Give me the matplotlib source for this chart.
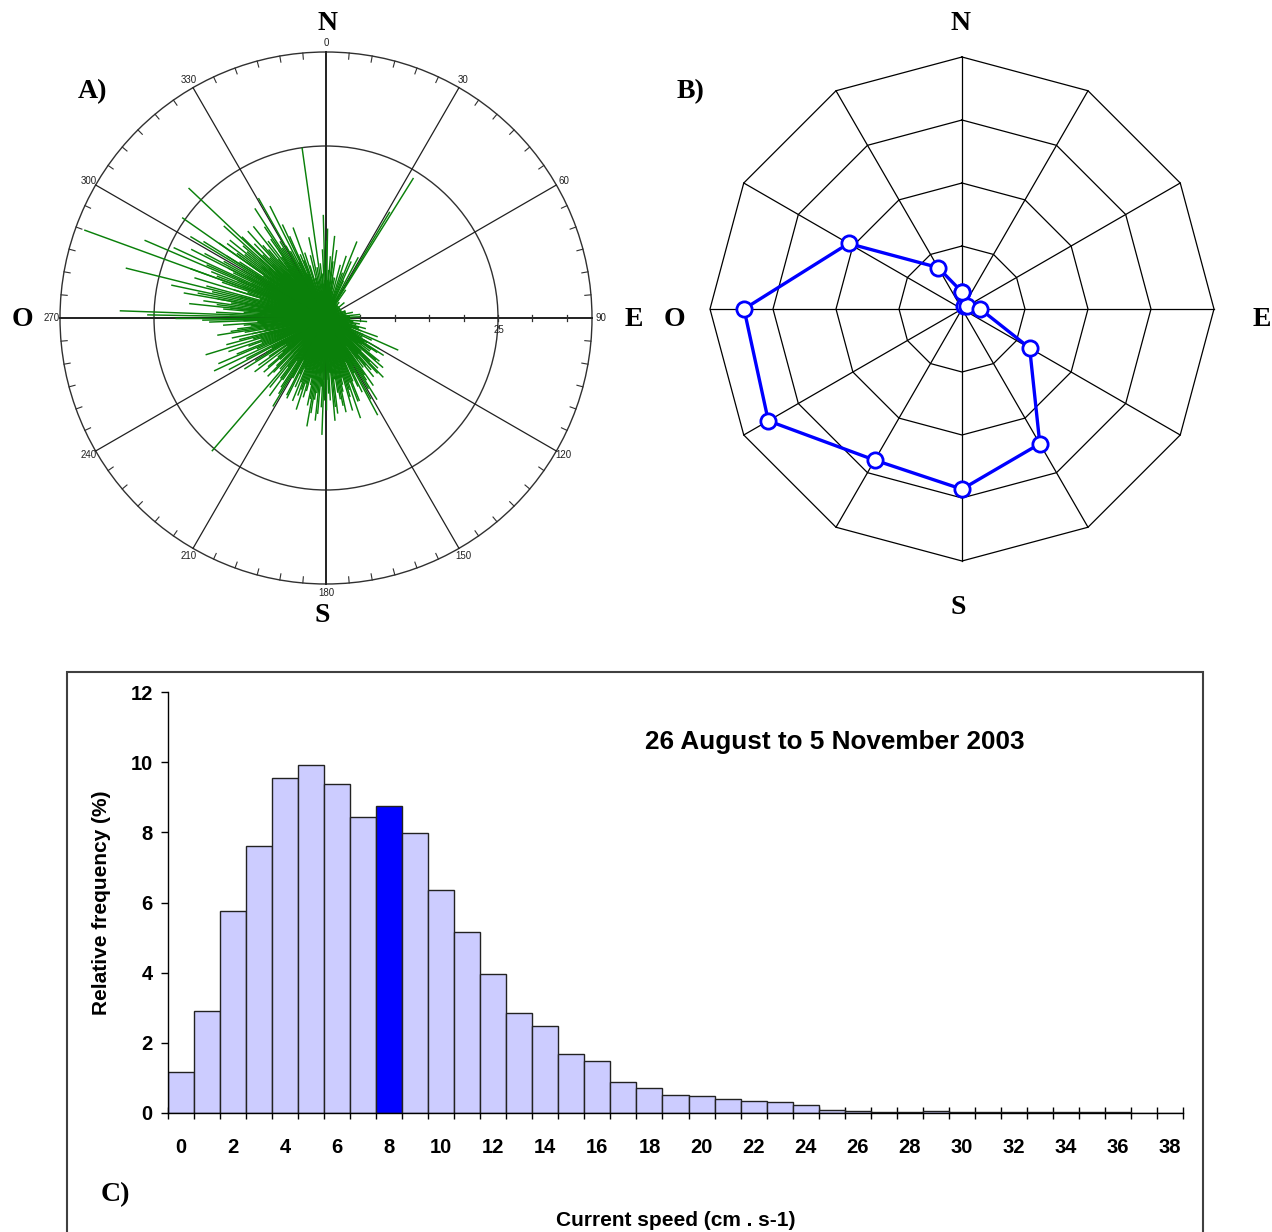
import numpy as np
import matplotlib
matplotlib.use("Agg")
import matplotlib.pyplot as plt
from matplotlib.patches import Circle, Rectangle

# ---------------------------------------------------------------- data
# A) current vectors: (direction in degrees clockwise from north, speed cm/s)
sticks_n = [(352, 25), (358.5, 15), (0, 11.4), (9, 10), (7, 8.3), (346, 9.4), (3, 7),
            (355, 6.5), (350, 7.5), (15, 8), (12, 6), (18, 9.5), (5, 5), (357, 10),
            (2, 4), (345, 6), (348, 12), (354, 8), (20, 7), (342, 10), (1, 13),
            (356, 5), (6, 12), (10, 6), (4, 9), (340, 14), (343, 8)]
sticks_ne = [(32, 24), (31, 18), (25, 6), (28, 10), (22, 12), (35, 5), (40, 3),
             (50, 3.5), (60, 2.5), (70, 3), (78, 4), (45, 2), (24, 9), (30, 4)]
sticks_e = [(84, 5), (88, 5), (92, 3), (96, 4), (100, 5), (86, 3), (95, 6)]
sticks_ese = [(114, 11.5), (116, 7.4), (105, 6), (110, 8), (120, 9), (125, 8), (130, 9.5),
              (108, 5), (118, 5), (123, 10), (128, 6), (112, 4), (103, 3.5), (133, 7)]
sticks_se = [(134, 10.5), (147, 10.8), (161, 15.4), (151, 13.5), (140, 9), (145, 12),
             (155, 11), (158, 13), (150, 8), (138, 7), (142, 6), (153, 9), (163, 12),
             (137, 11), (148, 14), (156, 7), (160, 10), (144, 5), (165, 9), (152, 16),
             (121, 7), (124, 9), (127, 8), (129, 10), (131, 11), (135, 9), (136, 12),
             (139, 10), (141, 11), (143, 9), (146, 10), (149, 12), (154, 12), (157, 10),
             (159, 13), (162, 11), (164, 14)]
sticks_s = [(180, 13.3), (190, 16), (175, 15), (170, 12), (185, 14), (178, 11), (182, 17),
            (172, 9), (188, 12), (193, 10), (168, 14), (176, 8), (184, 10), (179, 6),
            (186, 15), (174, 13), (192, 13), (167, 11), (181, 12), (195, 11), (166, 10),
            (169, 13), (171, 11), (173, 14), (177, 12), (183, 13), (187, 11), (189, 14),
            (191, 12), (194, 9), (196, 12), (197, 10), (199, 11), (202, 13)]
sticks_ssw = [(207, 12.6), (220.6, 25.5), (200, 12), (210, 10), (215, 11), (205, 9),
              (198, 14), (212, 13), (218, 9), (203, 8), (222, 10), (208, 7), (225, 12),
              (214, 6), (201, 10), (216, 14), (211, 15), (204, 11), (206, 13), (209, 10),
              (213, 12), (217, 11), (219, 13), (221, 8), (224, 11)]
sticks_sw = [(244.7, 18), (253, 18.3), (230, 11), (235, 12), (240, 10), (248, 14),
             (250, 12), (255, 15), (258, 11), (232, 8), (238, 14), (245, 9), (252, 10),
             (228, 9), (242, 16), (256, 13), (237, 7), (247, 17), (226, 10), (229, 12),
             (231, 9), (233, 13), (236, 10), (239, 12), (241, 9), (243, 13), (246, 11),
             (249, 10), (251, 15), (254, 11)]
sticks_w = [(272, 30), (282, 23), (284, 30), (270, 22), (275, 15), (278, 18), (265, 12),
            (268, 17), (262, 14), (280, 12), (276, 20), (273, 10), (266, 9), (271, 26),
            (279, 14), (283, 17), (263, 10), (269, 13), (274, 8), (281, 19), (277, 11),
            (256, 10), (258, 14), (259, 9), (260, 12), (261, 16), (263, 13), (264, 11),
            (266, 15), (267, 10), (268, 12), (269, 18), (270, 11), (271, 14), (272, 9),
            (273, 16), (274, 12), (276, 14), (277, 16), (279, 10), (280, 21)]
sticks_nw = [(290, 37.4), (293.2, 28.7), (294.8, 24.4), (304.9, 25.5), (313.4, 27.5),
             (287, 20), (292, 18), (296, 15), (298, 20), (300, 14), (302, 17), (306, 16),
             (308, 12), (310, 15), (312, 20), (315, 13), (318, 17), (288, 12), (297, 22),
             (303, 10), (316, 9), (289, 16), (299, 11), (305, 19), (311, 11), (319, 14),
             (291, 13), (301, 23), (309, 18), (314, 10), (276, 12), (278, 9), (280, 16),
             (282, 11), (284, 13), (285, 18), (286, 10), (287, 14), (289, 9), (290, 21),
             (291, 17), (292, 11), (293, 14), (294, 19), (295, 12), (296, 10), (297, 16),
             (298, 13), (299, 17), (300, 9), (301, 12), (302, 21), (303, 15), (304, 11),
             (305, 14), (306, 10), (307, 18), (308, 15), (309, 12), (310, 9), (311, 16),
             (312, 13), (313, 10), (314, 17), (315, 11), (316, 15), (317, 12), (318, 10)]
sticks_nnw = [(330.6, 20), (333.4, 18.2), (321.6, 17), (325, 14), (328, 12), (322, 9),
              (335, 15), (338, 10), (326, 16), (332, 8), (336, 13), (324, 11), (329, 10),
              (337, 7), (327, 19), (323, 14), (331, 12), (339, 9), (319, 9), (320, 13),
              (321, 11), (323, 10), (325, 12), (327, 9), (329, 13), (332, 11), (334, 9),
              (336, 10)]
# dense cluster of weak currents around the mooring
core_dir = [2, 6, 10, 14, 18, 22, 26, 30, 34, 38, 42, 46, 50, 54, 58, 62, 66, 70, 74, 78,
            82, 86, 90, 94, 98, 102, 106, 110, 114, 118, 122, 126, 130, 134, 138, 142,
            146, 150, 154, 158, 162, 166, 170, 174, 178, 182, 186, 190, 194, 198, 202,
            206, 210, 214, 218, 222, 226, 230, 234, 238, 242, 246, 250, 254, 258, 262,
            266, 270, 274, 278, 282, 286, 290, 294, 298, 302, 306, 310, 314, 318, 322,
            326, 330, 334, 338, 342, 346, 350, 354, 358]
core_speed = [5.5, 5, 4.5, 4, 3.5, 3, 2.5, 2.5, 2.5, 2.5, 2.5, 2.5, 2.5, 2.5, 2.5, 2.5,
              2.5, 3, 3, 3, 3, 3.5, 3.5, 3.5, 4, 4.5, 5, 5.5, 6, 6, 6.5, 6.5, 7, 7, 7,
              7.5, 7.5, 7.5, 8, 8, 8, 8.5, 8.5, 8.5, 9, 9, 8.5, 8.5, 8, 8, 8, 7.5, 7.5,
              7.5, 7, 7, 7, 7, 7, 7.5, 7.5, 8, 8, 8.5, 8.5, 9, 9, 9, 9, 9, 9, 9, 9, 9,
              9, 9, 8.5, 8.5, 8, 8, 7.5, 7, 7, 6.5, 6, 6, 6, 5.5, 5.5, 5.5]

# B) percentage of records per 30-degree direction sector
rose_dir = [0, 30, 60, 90, 120, 150, 180, 210, 240, 270, 300, 330]
rose_pct = [1.35, 0.3, 0.5, 1.45, 6.2, 12.35, 14.3, 13.85, 17.75, 17.3, 10.4, 3.8]
rose_rings = [5, 10, 15, 20]

# C) speed histogram (1 cm/s classes)
speed_class = list(range(39))
speed_freq = [1.17, 2.90, 5.75, 7.60, 9.54, 9.93, 9.39, 8.44, 8.74, 7.98, 6.36, 5.17,
              3.95, 2.85, 2.47, 1.68, 1.47, 0.89, 0.71, 0.51, 0.48, 0.39, 0.33, 0.31,
              0.24, 0.08, 0.07, 0.02, 0.04, 0.07, 0.02, 0.04, 0.02, 0.02, 0.02, 0.02,
              0.02, 0.0, 0.0]
modal_class = 8
speed_ticks = list(range(0, 39, 2))
freq_ticks = [0, 2, 4, 6, 8, 10, 12]

# ---------------------------------------------------------------- figure
W, H = 1272, 1232
fig = plt.figure(figsize=(W / 100, H / 100), dpi=100)
SERIF = "Liberation Serif"
SANS = "Liberation Sans"


def centred_axes(cx, cy, half):
    ax = fig.add_axes([(cx - half) / W, (H - cy - half) / H, 2 * half / W, 2 * half / H])
    ax.set_axis_off()
    return ax


def xy(d, r):
    t = np.radians(d)
    return r * np.sin(t), r * np.cos(t)


# ---------------------------------------------------------------- A) stick plot
PXA = 6.88           # pixels per cm/s
HALF = 310
axA = centred_axes(326, 318, HALF)
lim = HALF / PXA
axA.set_xlim(-lim, lim)
axA.set_ylim(-lim, lim)
r_out = 266 / PXA

axA.add_patch(Circle((0, 0), r_out, fill=False, ec="#303030", lw=1.0))
axA.add_patch(Circle((0, 0), 25, fill=False, ec="#303030", lw=1.0))
for d in range(0, 360, 30):
    x, y = xy(d, r_out)
    lw = 1.4 if d % 90 == 0 else 0.9
    axA.plot([0, x], [0, y], color="#202020", lw=lw, zorder=1)
for d in range(0, 360, 5):
    if d % 30:
        x0, y0 = xy(d, r_out - 0.9)
        x1, y1 = xy(d, r_out)
        axA.plot([x0, x1], [y0, y1], color="#303030", lw=0.8)
for s in range(5, 40, 5):
    axA.plot([s, s], [-0.45, 0.45], color="#303030", lw=0.9)
for d in range(0, 360, 30):
    x, y = xy(d, 39.9)
    axA.text(x, y, str(d), fontsize=7, family=SANS, ha="center", va="center",
             color="#202020")
axA.text(25.2, -1.75, "25", fontsize=7, family=SANS, ha="center", va="center",
         color="#202020")

all_sticks = (sticks_n + sticks_ne + sticks_e + sticks_ese + sticks_se + sticks_s
              + sticks_ssw + sticks_sw + sticks_w + sticks_nw + sticks_nnw
              + list(zip(core_dir, core_speed)))
for d, s in all_sticks:
    x, y = xy(d, s)
    axA.plot([0, x], [0, y], color="#0a800a", lw=1.05, zorder=3, solid_capstyle="butt")

bold_serif = dict(family=SERIF, fontweight="bold", fontsize=20, ha="center", va="center")
fig.text(327 / W, 1 - 24 / H, "N", **bold_serif)
fig.text(322 / W, 1 - 615 / H, "S", **bold_serif)
fig.text(22 / W, 1 - 320 / H, "O", **bold_serif)
fig.text(634 / W, 1 - 320 / H, "E", **bold_serif)
fig.text(92 / W, 1 - 92 / H, "A)", **bold_serif)

# ---------------------------------------------------------------- B) direction rose
PXB = 12.6           # pixels per percent
axB = centred_axes(962, 309, HALF)
limB = HALF / PXB
axB.set_xlim(-limB, limB)
axB.set_ylim(-limB, limB)
ring_angles = rose_dir + [rose_dir[0]]
for r in rose_rings:
    px, py = xy(np.array(ring_angles, dtype=float), r)
    axB.plot(px, py, color="black", lw=0.9, zorder=1)
for d in rose_dir:
    x, y = xy(d, rose_rings[-1])
    axB.plot([0, x], [0, y], color="black", lw=0.9, zorder=1)
vx, vy = xy(np.array(rose_dir + [rose_dir[0]], dtype=float),
            np.array(rose_pct + [rose_pct[0]]))
axB.plot(vx, vy, color="#0000ff", lw=2.4, marker="o", ms=11, mfc="white",
         mec="#0000ff", mew=2.0, zorder=3)

fig.text(960 / W, 1 - 24 / H, "N", **bold_serif)
fig.text(958 / W, 1 - 607 / H, "S", **bold_serif)
fig.text(674 / W, 1 - 320 / H, "O", **bold_serif)
fig.text(1262 / W, 1 - 320 / H, "E", **bold_serif)
fig.text(690 / W, 1 - 92 / H, "B)", **bold_serif)

# ---------------------------------------------------------------- C) histogram
frame = Rectangle((67 / W, -0.05), (1203 - 67) / W, (1232 - 672) / H + 0.05,
                  transform=fig.transFigure, fill=False, ec="#404040", lw=1.5)
fig.patches.append(frame)

axC = fig.add_axes([168 / W, (H - 1113) / H, (1183 - 168) / W, (1113 - 692) / H])
colors = ["#0000ff" if c == modal_class else "#ccccff" for c in speed_class]
axC.bar(speed_class, speed_freq, width=1.0, color=colors, edgecolor="#222222",
        linewidth=1.0, zorder=2)
axC.set_xlim(-0.5, 38.5)
axC.set_ylim(0, 12)
for side in ("top", "right"):
    axC.spines[side].set_visible(False)
for side in ("left", "bottom"):
    axC.spines[side].set_linewidth(1.0)
    axC.spines[side].set_zorder(3)
axC.set_xticks(speed_ticks)
axC.set_xticks(np.arange(-0.5, 39, 1.0), minor=True)
axC.tick_params(axis="x", which="major", length=0, pad=18)
axC.tick_params(axis="x", which="minor", length=9, direction="inout", width=1.0)
axC.set_yticks(freq_ticks)
axC.tick_params(axis="y", which="major", length=5, direction="out", width=1.0, pad=6)
for lab in axC.get_xticklabels() + axC.get_yticklabels():
    lab.set_fontfamily(SANS)
    lab.set_fontweight("bold")
    lab.set_fontsize(14.5)
axC.set_ylabel("Relative frequency (%)", family=SANS, fontweight="bold", fontsize=15,
               labelpad=14)
axC.set_xlabel("Current speed (cm . s-1)", family=SANS, fontweight="bold", fontsize=15,
               labelpad=39)
axC.text(0.657, 0.881, "26 August to 5 November 2003", transform=axC.transAxes,
         family=SANS, fontweight="bold", fontsize=18.8, ha="center", va="center")
fig.text(115 / W, 1 - 1195 / H, "C)", **bold_serif)

fig.savefig("out.png", dpi=100)
